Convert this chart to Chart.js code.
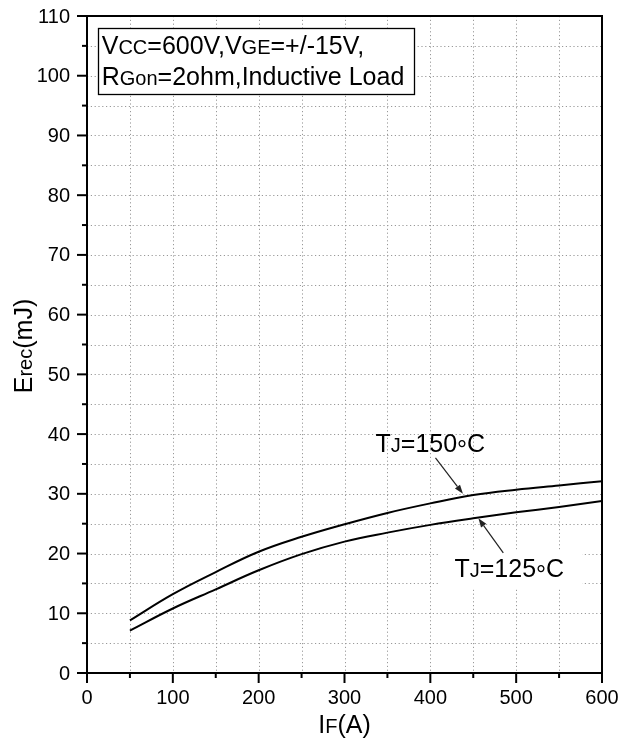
<!DOCTYPE html>
<html><head><meta charset="utf-8">
<script src="https://cdn.jsdelivr.net/npm/chart.js@4"></script>
<style>html,body{margin:0;padding:0;background:#fff}canvas{display:block}</style>
</head><body>
<canvas id="c" width="619" height="741"></canvas>
<script>
// ---- data ----
const currentA = [50, 100, 150, 200, 250, 300, 350, 400, 450, 500, 550, 600];
const erec150 = [8.8, 13.2, 16.9, 20.3, 22.8, 24.9, 26.8, 28.4, 29.8, 30.7, 31.4, 32.1];
const erec125 = [7.1, 10.8, 14.0, 17.2, 19.9, 22.0, 23.5, 24.8, 25.9, 26.9, 27.8, 28.8];
const xTickValues = [0, 100, 200, 300, 400, 500, 600];
const yTickValues = [0, 10, 20, 30, 40, 50, 60, 70, 80, 90, 100, 110];
const seriesNames = ['TJ=150°C', 'TJ=125°C'];

const FONT = "'Liberation Sans', Arial, sans-serif";

function drawMixed(ctx, parts, x, y, size, align) {
  let w = 0;
  parts.forEach(p => { ctx.font = (size * p[1]) + 'px ' + FONT; w += ctx.measureText(p[0]).width; });
  let cx = align === 'center' ? x - w / 2 : (align === 'right' ? x - w : x);
  ctx.textBaseline = 'alphabetic';
  ctx.textAlign = 'left';
  parts.forEach(p => {
    ctx.font = (size * p[1]) + 'px ' + FONT;
    ctx.fillText(p[0], cx, y + (p[2] || 0));
    cx += ctx.measureText(p[0]).width;
  });
  return w;
}

function arrow(ctx, x1, y1, x2, y2) {
  ctx.save();
  ctx.strokeStyle = '#222'; ctx.fillStyle = '#222'; ctx.lineWidth = 1.2;
  const a = Math.atan2(y2 - y1, x2 - x1);
  const hl = 9, hw = 3.2;
  const bx = x2 - hl * Math.cos(a), by = y2 - hl * Math.sin(a);
  ctx.beginPath(); ctx.moveTo(x1, y1); ctx.lineTo(bx, by); ctx.stroke();
  ctx.beginPath();
  ctx.moveTo(x2, y2);
  ctx.lineTo(bx + hw * Math.sin(a), by - hw * Math.cos(a));
  ctx.lineTo(bx - hw * Math.sin(a), by + hw * Math.cos(a));
  ctx.closePath(); ctx.fill();
  ctx.restore();
}

const SUB = 0.8;

const decor = {
  id: 'decor',
  beforeDatasetsDraw(chart) {
    const ctx = chart.ctx, ca = chart.chartArea;
    const xs = chart.scales.x, ys = chart.scales.y;
    ctx.save();
    ctx.strokeStyle = '#999'; ctx.lineWidth = 1; ctx.setLineDash([1.2, 2.6]);
    xs.ticks.forEach(t => {
      if (t.value <= xs.min || t.value >= xs.max) return;
      const px = Math.round(xs.getPixelForValue(t.value)) + 0.5;
      ctx.beginPath(); ctx.moveTo(px, ca.top); ctx.lineTo(px, ca.bottom); ctx.stroke();
    });
    ys.ticks.forEach(t => {
      if (t.value <= ys.min || t.value >= ys.max) return;
      const py = Math.round(ys.getPixelForValue(t.value)) + 0.5;
      ctx.beginPath(); ctx.moveTo(ca.left, py); ctx.lineTo(ca.right, py); ctx.stroke();
    });
    ctx.setLineDash([]);
    // white label box behind the 125 °C label
    const bx1 = xs.getPixelForValue(411), bx2 = xs.getPixelForValue(577);
    const by1 = ys.getPixelForValue(20.6), by2 = ys.getPixelForValue(14.2);
    ctx.fillStyle = '#fff';
    ctx.fillRect(bx1, by1, bx2 - bx1, by2 - by1);
    ctx.restore();
  },
  afterDatasetsDraw(chart) {
    const ctx = chart.ctx, ca = chart.chartArea;
    const xs = chart.scales.x, ys = chart.scales.y;
    ctx.save();
    // frame
    ctx.strokeStyle = '#000'; ctx.lineWidth = 2;
    ctx.strokeRect(ca.left, ca.top, ca.right - ca.left, ca.bottom - ca.top);
    // tick marks
    xs.ticks.forEach(t => {
      const px = xs.getPixelForValue(t.value);
      const len = xTickValues.includes(t.value) ? 10 : 5;
      ctx.beginPath(); ctx.moveTo(px, ca.bottom); ctx.lineTo(px, ca.bottom + len); ctx.stroke();
    });
    ys.ticks.forEach(t => {
      const py = ys.getPixelForValue(t.value);
      const len = yTickValues.includes(t.value) ? 10 : 5;
      ctx.beginPath(); ctx.moveTo(ca.left, py); ctx.lineTo(ca.left - len, py); ctx.stroke();
    });
    // tick labels
    ctx.fillStyle = '#000';
    ctx.font = '20px ' + FONT;
    ctx.textAlign = 'center'; ctx.textBaseline = 'middle';
    xTickValues.forEach(v => ctx.fillText(String(v), xs.getPixelForValue(v), ca.bottom + 25));
    ctx.textAlign = 'right';
    yTickValues.forEach(v => ctx.fillText(String(v), ca.left - 17, ys.getPixelForValue(v) + 1));
    // condition box
    const lx1 = xs.getPixelForValue(12.5), lx2 = xs.getPixelForValue(381);
    const ly1 = ys.getPixelForValue(108), ly2 = ys.getPixelForValue(97.0);
    ctx.fillStyle = '#fff';
    ctx.fillRect(lx1, ly1, lx2 - lx1, ly2 - ly1);
    ctx.strokeStyle = '#000'; ctx.lineWidth = 1.3;
    ctx.strokeRect(Math.round(lx1) + 0.5, Math.round(ly1) + 0.5, Math.round(lx2 - lx1), Math.round(ly2 - ly1));
    ctx.fillStyle = '#000';
    drawMixed(ctx, [['V', 1], ['CC', SUB], ['=600V,V', 1], ['GE', SUB], ['=+/-15V,', 1]], lx1 + 4, ly1 + 26, 25, 'left');
    drawMixed(ctx, [['R', 1], ['Gon', SUB], ['=2ohm,Inductive Load', 1]], lx1 + 4, ly1 + 57, 25, 'left');
    // series annotations
    drawMixed(ctx, [['T', 1], ['J', SUB], ['=150', 1], ['°', 1, 6], ['C', 1]], xs.getPixelForValue(400), ys.getPixelForValue(37.0), 25, 'center');
    arrow(ctx, xs.getPixelForValue(406), ys.getPixelForValue(36.0), xs.getPixelForValue(438), ys.getPixelForValue(30.0));
    drawMixed(ctx, [['T', 1], ['J', SUB], ['=125', 1], ['°', 1, 6], ['C', 1]], xs.getPixelForValue(492), ys.getPixelForValue(16.0), 25, 'center');
    arrow(ctx, xs.getPixelForValue(485), ys.getPixelForValue(20.1), xs.getPixelForValue(456), ys.getPixelForValue(25.9));
    // axis titles
    drawMixed(ctx, [['I', 1], ['F', SUB], ['(A)', 1]], (ca.left + ca.right) / 2, 733, 25, 'center');
    ctx.save();
    ctx.translate(32, 346);
    ctx.rotate(-Math.PI / 2);
    drawMixed(ctx, [['E', 1], ['rec', SUB], ['(mJ)', 1]], 0, 0, 25, 'center');
    ctx.restore();
    ctx.restore();
  }
};

new Chart(document.getElementById('c'), {
  type: 'line',
  data: {
    datasets: [
      { label: seriesNames[0], data: currentA.map((x, i) => ({ x, y: erec150[i] })), borderColor: '#000', borderWidth: 2, pointRadius: 0, tension: 0.4, fill: false },
      { label: seriesNames[1], data: currentA.map((x, i) => ({ x, y: erec125[i] })), borderColor: '#000', borderWidth: 2, pointRadius: 0, tension: 0.4, fill: false }
    ]
  },
  options: {
    responsive: false, animation: false,
    layout: { padding: { top: 16, right: 17, left: 0, bottom: 0 } },
    plugins: { legend: { display: false }, tooltip: { enabled: false } },
    scales: {
      x: {
        type: 'linear', min: 0, max: 600,
        afterFit: s => { s.height = 68; },
        grid: { display: false, drawTicks: false },
        border: { display: false },
        ticks: { display: false, stepSize: 50, autoSkip: false, maxRotation: 0 }
      },
      y: {
        type: 'linear', min: 0, max: 110,
        afterFit: s => { s.width = 87; },
        grid: { display: false, drawTicks: false },
        border: { display: false },
        ticks: { display: false, stepSize: 5, autoSkip: false }
      }
    }
  },
  plugins: [decor]
});
</script>
</body></html>
